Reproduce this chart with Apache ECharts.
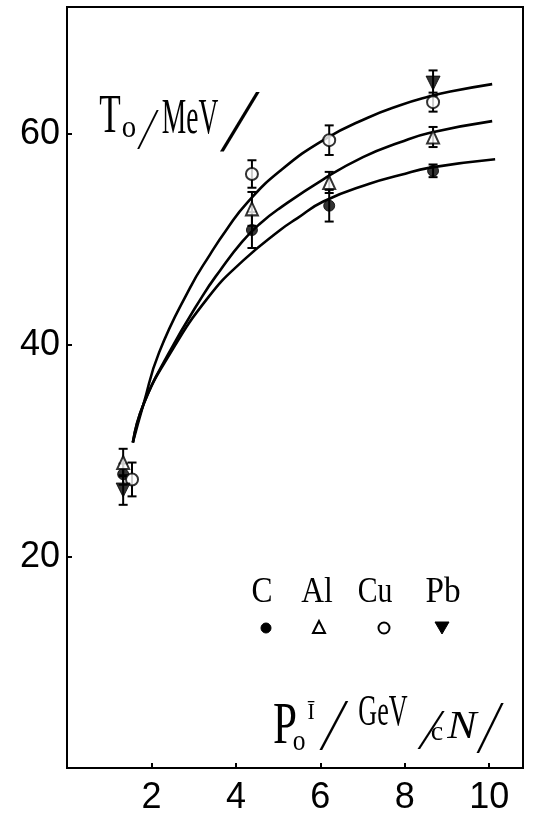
<!DOCTYPE html>
<html><head><meta charset="utf-8">
<script src="https://cdn.jsdelivr.net/npm/echarts@6/dist/echarts.min.js"></script>
<style>html,body{margin:0;padding:0;background:#fff}#c{width:534px;height:816px}</style>
</head><body><div id="c"></div>
<script>
// ---- data ----
const xTickLabels = ['2', '4', '6', '8', '10'];
const yTickLabels = ['20', '40', '60'];
const targetNames = ['C', 'Al', 'Cu', 'Pb'];
// [P0 (GeV/cN), T0 (MeV), error]
const pointsC  = [[1.33, 27.8, 1.0], [4.38, 50.9, 1.7], [6.21, 53.2, 1.5], [8.67, 56.5, 0.6]];
const pointsAl = [[1.33, 28.9, 1.3], [4.38, 52.9, 1.6], [6.21, 55.4, 1.0], [8.67, 59.7, 0.95]];
const pointsCu = [[1.54, 27.3, 1.6], [4.38, 56.2, 1.3], [6.21, 59.4, 1.4], [8.67, 63.0, 0.9]];
const pointsPb = [[1.33, 26.3, 1.4], [8.67, 64.8, 1.2]];
const curveUpper = [[1.56, 30.8], [1.81, 34.4], [2.18, 39.3], [2.91, 45.4], [3.39, 48.6], [3.79, 51.0], [4.27, 53.5],
  [5.05, 56.5], [6.11, 59.5], [7.11, 61.5], [7.89, 62.7], [8.55, 63.5], [9.08, 64.0], [10.07, 64.7]];
const curveMiddle = [[1.56, 30.8], [1.81, 34.4], [2.39, 39.1], [3.20, 44.6], [3.63, 47.1], [4.15, 49.8], [4.57, 51.5],
  [5.05, 53.0], [6.07, 55.7], [7.01, 57.8], [7.89, 59.2], [8.60, 60.1], [10.07, 61.2]];
const curveLower = [[1.56, 30.8], [1.81, 34.4], [2.41, 39.0], [3.34, 44.5], [4.17, 48.0], [5.05, 50.9], [5.45, 52.0],
  [6.07, 53.6], [7.18, 55.3], [7.89, 56.1], [8.60, 56.8], [10.14, 57.6]];

// ---- chart ----
const chart = echarts.init(document.getElementById('c'), null, {renderer: 'canvas'});
const SERIF = '"Liberation Serif", "DejaVu Serif", serif';
const TICKFONT = '"Liberation Sans", "DejaVu Sans", sans-serif';

function errSeries(pts) {
  return {
    type: 'custom', silent: true, z: 3,
    data: pts.map(p => [p[0], p[1] - p[2], p[1] + p[2]]),
    encode: {x: 0, y: [1, 2]},
    renderItem(params, api) {
      const lo = api.coord([api.value(0), api.value(1)]);
      const hi = api.coord([api.value(0), api.value(2)]);
      const w = 4.5;
      const st = {stroke: '#000', lineWidth: 2};
      return {type: 'group', children: [
        {type: 'line', shape: {x1: lo[0], y1: lo[1], x2: hi[0], y2: hi[1]}, style: st},
        {type: 'line', shape: {x1: lo[0] - w, y1: lo[1], x2: lo[0] + w, y2: lo[1]}, style: st},
        {type: 'line', shape: {x1: hi[0] - w, y1: hi[1], x2: hi[0] + w, y2: hi[1]}, style: st}
      ]};
    }
  };
}
function curve(d) {
  return {type: 'line', data: d, showSymbol: false, smooth: 0.5, z: 2, silent: true,
    lineStyle: {color: '#000', width: 2.6}};
}
function txt(t, x, y, size, opts) {
  opts = opts || {};
  return {type: 'text', x: x, y: y, scaleX: opts.sx || 1, scaleY: opts.sy || 1, z: 10,
    style: {text: t, fontSize: size, fontFamily: SERIF, fontStyle: opts.italic ? 'italic' : 'normal',
      fill: '#000', align: 'center', verticalAlign: 'middle'}};
}

const option = {
  animation: false,
  backgroundColor: '#fff',
  grid: {left: 67, top: 7, right: 11, bottom: 43, show: true, borderColor: '#000', borderWidth: 2, backgroundColor: 'transparent'},
  xAxis: {
    type: 'value', min: 0, max: 10.8, interval: 2,
    axisLine: {show: true, lineStyle: {color: '#000', width: 2}},
    axisTick: {show: true, inside: true, length: 5, lineStyle: {color: '#000', width: 2}},
    splitLine: {show: false},
    axisLabel: {color: '#000', fontFamily: TICKFONT, fontSize: 36, margin: 12,
      formatter: v => xTickLabels.includes(String(v)) ? String(v) : ''}
  },
  yAxis: {
    type: 'value', min: 0, max: 72, interval: 20,
    axisLine: {show: true, lineStyle: {color: '#000', width: 2}},
    axisTick: {show: true, inside: true, length: 5, lineStyle: {color: '#000', width: 2}},
    splitLine: {show: false},
    axisLabel: {color: '#000', fontFamily: TICKFONT, fontSize: 36, margin: 7,
      formatter: v => yTickLabels.includes(String(v)) ? String(v) : ''}
  },
  series: [
    curve(curveUpper), curve(curveMiddle), curve(curveLower),
    errSeries(pointsC), errSeries(pointsAl), errSeries(pointsCu), errSeries(pointsPb),
    {name: targetNames[0], type: 'scatter', z: 5, data: pointsC.map(p => [p[0], p[1]]), symbol: 'circle', symbolSize: 11,
      itemStyle: {color: '#000', borderColor: '#000', borderWidth: 1}},
    {name: targetNames[1], type: 'scatter', z: 5, data: pointsAl.map(p => [p[0], p[1]]), symbol: 'triangle', symbolSize: [12, 13],
      itemStyle: {color: '#fff', borderColor: '#000', borderWidth: 2}},
    {name: targetNames[2], type: 'scatter', z: 5, data: pointsCu.map(p => [p[0], p[1]]), symbol: 'circle', symbolSize: 12,
      itemStyle: {color: '#fff', borderColor: '#000', borderWidth: 2}},
    {name: targetNames[3], type: 'scatter', z: 5, data: pointsPb.map(p => [p[0], p[1]]), symbol: 'triangle', symbolRotate: 180, symbolSize: [14, 14],
      itemStyle: {color: '#000', borderColor: '#000', borderWidth: 1}}
  ],
  graphic: [
    // y-axis title  T0 /MeV/
    txt('T', 110, 118, 54, {sx: 0.65}),
    txt('o', 129, 129, 32, {sx: 0.9}),
    txt('⁄', 148, 133, 59, {sx: 0.7}),
    txt('MeV', 190, 120, 50, {sx: 0.55}),
    txt('⁄', 240, 128, 90, {sx: 0.85}),
    // legend
    txt(targetNames[0], 262, 593, 35, {sx: 0.9}),
    txt(targetNames[1], 317, 593, 35, {sx: 0.9}),
    txt(targetNames[2], 375, 593, 35, {sx: 0.85}),
    txt(targetNames[3], 443, 593, 35, {sx: 0.95}),
    {type: 'circle', shape: {cx: 266, cy: 628, r: 5}, style: {fill: '#000', stroke: '#000', lineWidth: 1}, z: 10},
    {type: 'polygon', shape: {points: [[319, 621], [313, 633], [325, 633]]}, style: {fill: '#fff', stroke: '#000', lineWidth: 2}, z: 10},
    {type: 'circle', shape: {cx: 384, cy: 628, r: 5.5}, style: {fill: '#fff', stroke: '#000', lineWidth: 2}, z: 10},
    {type: 'polygon', shape: {points: [[435, 622], [449, 622], [442, 634]]}, style: {fill: '#000', stroke: '#000', lineWidth: 1}, z: 10},
    // x-axis title  P0^I /GeV/cN/
    txt('P', 285, 727, 59, {sx: 0.73}),
    txt('o', 299, 742, 30, {sx: 0.85}),
    txt('Ī', 311, 713, 24, {sx: 0.9}),
    txt('⁄', 334, 731, 74, {sx: 0.75}),
    txt('GeV', 383, 713, 45, {sx: 0.58}),
    txt('⁄', 431, 734, 58, {sx: 0.9}),
    txt('c', 437, 733, 28, {sx: 1}),
    txt('N', 462, 727, 40, {italic: true, sx: 1.1}),
    txt('⁄', 490, 733, 77, {sx: 0.68})
  ]
};
chart.setOption(option);
</script>
</body></html>
